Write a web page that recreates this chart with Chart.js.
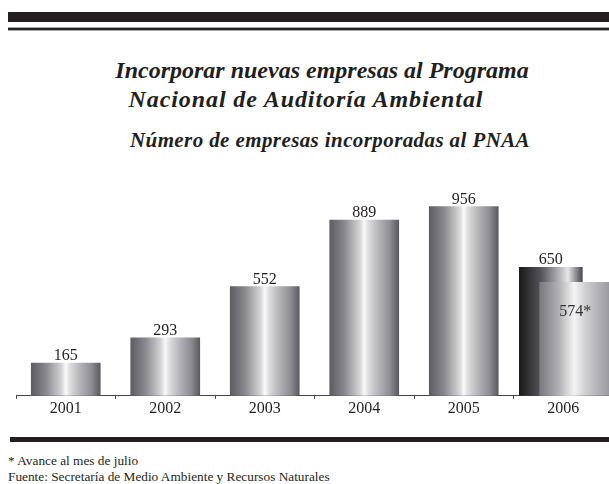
<!DOCTYPE html>
<html lang="es">
<head>
<meta charset="utf-8">
<script src="https://cdn.jsdelivr.net/npm/chart.js@4.4.1/dist/chart.umd.min.js"></script>
<style>
  html, body { margin: 0; padding: 0; background: #fff; }
  body { width: 609px; height: 484px; position: relative; overflow: hidden; font-family: "Liberation Serif", "Times New Roman", serif; color: #231f20; }
  .regla { position: absolute; left: 8px; right: 0; background: #231f20; }
  .titulo { position: absolute; left: 0; width: 609px; text-align: center; font-weight: bold; font-style: italic; white-space: nowrap; box-sizing: border-box; }
  .nota { position: absolute; left: 8px; font-size: 13.3px; white-space: nowrap; }
  #lienzo { position: absolute; left: 0; top: 160px; width: 625px; height: 270px; }
</style>
</head>
<body>
<div class="regla" style="top:12px;height:10px;"></div>
<div class="regla" style="top:27px;height:1px;background:#a8a8a8;"></div>
<div class="regla" style="top:28px;height:2px;"></div>
<div class="regla" style="top:30px;height:1px;background:#a8a8a8;"></div>

<div class="titulo" style="top:57px;font-size:24px;padding-left:35px;">Incorporar nuevas empresas al Programa</div>
<div class="titulo" style="top:86px;font-size:24px;padding-left:3px;letter-spacing:0.9px;">Nacional de Auditoría Ambiental</div>
<div class="titulo" style="top:128px;font-size:21px;padding-left:51px;letter-spacing:0.4px;">Número de empresas incorporadas al PNAA</div>

<div id="lienzo"><canvas id="grafica"></canvas></div>

<div class="regla" style="top:437px;height:5px;left:10px;"></div>
<div class="nota" style="top:453px;">* Avance al mes de julio</div>
<div class="nota" style="top:469px;">Fuente: Secretaría de Medio Ambiente y Recursos Naturales</div>

<script>
// ---- datos ----
const anios = ['2001', '2002', '2003', '2004', '2005', '2006'];
const empresas = [165, 293, 552, 889, 956, 650];
const avance2006 = [574];
const etiquetaAvance = '574*';

// ---- estilo ----
const anchoBarra = 69;
const anchoBarraFondo = 63;
const desfaseFondo = -0.125;   // barra 2006 total, un poco a la izquierda
const desfaseAvance = 0.11;    // barra 2006 avance, a la derecha
const fuenteSerif = '"Liberation Serif", "Times New Roman", serif';

const paradasNormal = [[0, '#5c5c62'], [0.22, '#8a8a90'], [0.44, '#d6d6d8'], [0.5, '#fafafa'], [0.56, '#dedee0'], [0.72, '#b0b0b6'], [0.87, '#8e8e94'], [1, '#5a5a60']];
const paradasFondo = [[0, '#1a1a1c'], [0.35, '#56565a'], [0.68, '#c4c4c8'], [0.77, '#e6e6e8'], [1, '#48484e']];
const paradasAvance = [[0, '#78787e'], [0.28, '#b2b2b6'], [0.5, '#f4f4f4'], [0.66, '#d0d0d2'], [1, '#9a9aa0']];

// degradado horizontal por barra
function degradado(paradas, ancho) {
  return function (c) {
    const chart = c.chart;
    const esc = chart.scales.xv;
    if (!esc || !c.raw) return paradas[0][1];
    const cx = esc.getPixelForValue(c.raw.x);
    if (!isFinite(cx)) return paradas[0][1];
    const g = chart.ctx.createLinearGradient(cx - ancho / 2, 0, cx + ancho / 2, 0);
    paradas.forEach(p => g.addColorStop(p[0], p[1]));
    return g;
  };
}

const puntosNormales = anios.slice(0, 5).map((a, i) => ({ x: Number(a), y: empresas[i] }));
const puntoFondo = [{ x: Number(anios[5]) + desfaseFondo, y: empresas[5] }];
const puntoAvance = [{ x: Number(anios[5]) + desfaseAvance, y: avance2006[0] }];

// etiquetas de valor sobre / dentro de las barras
const etiquetasValor = {
  id: 'etiquetasValor',
  afterDatasetsDraw(chart) {
    const ctx = chart.ctx;
    ctx.save();
    ctx.font = '16px ' + fuenteSerif;
    ctx.textAlign = 'center';
    ctx.textBaseline = 'alphabetic';
    chart.data.datasets.forEach((ds, di) => {
      chart.getDatasetMeta(di).data.forEach((el, i) => {
        const v = ds.data[i].y;
        if (ds.etiquetaDentro) {
          ctx.fillStyle = '#333';
          ctx.fillText(ds.etiquetaDentro, el.x + 1, el.y + 34);
        } else {
          ctx.fillStyle = '#231f20';
          ctx.fillText(String(v), el.x, el.y - 3);
        }
      });
    });
    ctx.restore();
  }
};

new Chart(document.getElementById('grafica'), {
  type: 'bar',
  data: {
    labels: anios,
    datasets: [
      { data: puntosNormales, order: 2, xAxisID: 'xv', barThickness: anchoBarra, backgroundColor: degradado(paradasNormal, anchoBarra), borderWidth: 0 },
      { data: puntoFondo, order: 1, xAxisID: 'xv', barThickness: anchoBarraFondo, backgroundColor: degradado(paradasFondo, anchoBarraFondo), borderWidth: 0 },
      { data: puntoAvance, order: 0, xAxisID: 'xv', barThickness: anchoBarra, backgroundColor: degradado(paradasAvance, anchoBarra), borderWidth: 0, etiquetaDentro: etiquetaAvance }
    ]
  },
  options: {
    responsive: true,
    maintainAspectRatio: false,
    animation: false,
    layout: { padding: { left: 16, right: 12, top: 38, bottom: 12 } },
    plugins: { legend: { display: false }, tooltip: { enabled: false } },
    datasets: { bar: { grouped: false } },
    scales: {
      x: {
        type: 'category',
        offset: true,
        grid: { display: true, offset: true, drawOnChartArea: false, drawTicks: true, tickLength: 3, color: '#444' },
        border: { display: true, color: '#444', width: 1 },
        ticks: { color: '#231f20', font: { family: fuenteSerif, size: 16 }, padding: 0, maxRotation: 0 }
      },
      xv: { type: 'linear', display: false, offset: false, min: 2000.5, max: 2006.5 },
      y: { display: false, min: 0, max: 1000 }
    }
  },
  plugins: [etiquetasValor]
});
</script>
</body>
</html>
